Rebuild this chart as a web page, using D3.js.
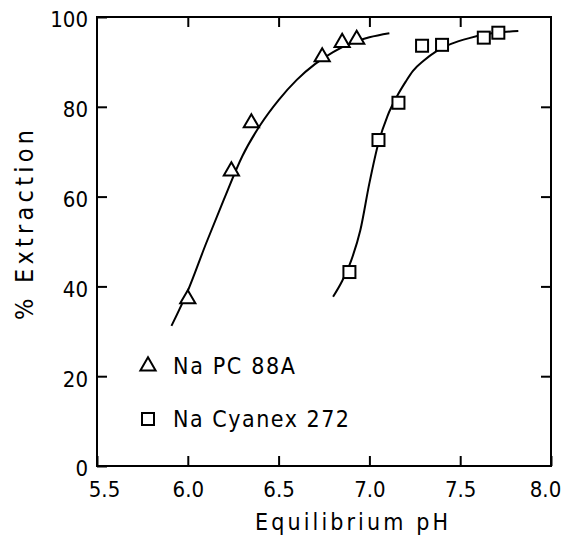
<!DOCTYPE html>
<html><head><meta charset="utf-8">
<script src="https://cdn.jsdelivr.net/npm/d3@7"></script>
<style>
html,body{margin:0;padding:0;background:#fff;}
text{font-family:"DejaVu Sans Condensed","DejaVu Sans",sans-serif;fill:#000;}
</style></head>
<body><svg id="c" width="564" height="543"></svg>
<script>
// Data
const xTicks = [5.5, 6.0, 6.5, 7.0, 7.5, 8.0];
const yTicks = [0, 20, 40, 60, 80, 100];
const pcPH  = [6.00, 6.24, 6.35, 6.74, 6.85, 6.93];
const pcExt = [37.2, 65.7, 76.4, 91.1, 94.3, 95.0];
const cyPH  = [6.89, 7.05, 7.16, 7.29, 7.40, 7.63, 7.71];
const cyExt = [43.2, 72.6, 80.9, 93.6, 93.8, 95.4, 96.5];
// fitted curves
const pcCurvePH  = [5.91, 6.00, 6.10, 6.20, 6.30, 6.40, 6.50, 6.60, 6.70, 6.80, 6.90, 7.00, 7.11];
const pcCurveExt = [31.2, 39.0, 49.5, 59.5, 69.0, 76.0, 81.5, 86.0, 89.5, 92.2, 94.2, 95.5, 96.4];
const cyCurvePH  = [6.80, 6.85, 6.90, 6.95, 7.00, 7.05, 7.10, 7.15, 7.20, 7.24, 7.30, 7.37, 7.45, 7.55, 7.65, 7.82];
const cyCurveExt = [37.7, 41.2, 45.8, 52.5, 63.0, 72.0, 78.0, 82.2, 85.6, 88.0, 90.3, 92.4, 94.0, 95.3, 96.2, 96.9];
const legendLabels = ["Na PC 88A", "Na Cyanex 272"];
const xLabel = "Equilibrium pH";
const yLabel = "%  Extraction";

const svg = d3.select("#c");
const L = 97, R = 551, T = 17, B = 466;
const x = d3.scaleLinear().domain([5.5, 8.0]).range([L, R]);
const y = d3.scaleLinear().domain([0, 100]).range([B, T]);

const fs = 22;
function styleAxis(g){
  g.select(".domain").remove();
  g.selectAll(".tick line").attr("stroke","#000").attr("stroke-width",2);
  g.selectAll(".tick text").attr("font-size",fs).attr("fill","#000")
   .style("font-family","'DejaVu Sans Condensed','DejaVu Sans',sans-serif");
}
// bottom axis
const bx = svg.append("g").attr("transform",`translate(0,${B})`)
  .call(d3.axisBottom(x).tickValues(xTicks).tickFormat(d3.format(".1f")).tickSize(-10).tickPadding(15))
  .call(styleAxis);
bx.selectAll(".tick text").attr("dx", d => d === 5.5 ? 7 : d === 8.0 ? -6 : 0);
// top axis ticks
svg.append("g").attr("transform",`translate(0,${T})`)
  .call(d3.axisTop(x).tickValues(xTicks.slice(1,-1)).tickFormat("").tickSize(-10))
  .call(styleAxis);
// left axis
svg.append("g").attr("transform",`translate(${L},0)`)
  .call(d3.axisLeft(y).tickValues(yTicks).tickFormat(d3.format("d")).tickSize(-10).tickPadding(9))
  .call(styleAxis)
  .selectAll(".tick text").attr("dy","0.45em");
// right axis ticks
svg.append("g").attr("transform",`translate(${R},0)`)
  .call(d3.axisRight(y).tickValues(yTicks.slice(1,-1)).tickFormat("").tickSize(-10))
  .call(styleAxis);
// frame
svg.append("rect").attr("x",L).attr("y",T).attr("width",R-L).attr("height",B-T)
  .attr("fill","none").attr("stroke","#000").attr("stroke-width",2);

// curves
const line = d3.line().x(d=>x(d[0])).y(d=>y(d[1])).curve(d3.curveMonotoneX);
svg.append("path").datum(d3.zip(pcCurvePH, pcCurveExt)).attr("d",line)
  .attr("fill","none").attr("stroke","#000").attr("stroke-width",2);
svg.append("path").datum(d3.zip(cyCurvePH, cyCurveExt)).attr("d",line)
  .attr("fill","none").attr("stroke","#000").attr("stroke-width",2);

// markers
const tri = d3.symbol().type(d3.symbolTriangle).size(100);
svg.selectAll(".tri").data(d3.zip(pcPH, pcExt)).join("path")
  .attr("transform",d=>`translate(${x(d[0])},${y(d[1])})`)
  .attr("d",tri).attr("fill","#fff").attr("stroke","#000").attr("stroke-width",2);
const sqS = 12;
svg.selectAll(".sq").data(d3.zip(cyPH, cyExt)).join("rect")
  .attr("x",d=>x(d[0])-sqS/2).attr("y",d=>y(d[1])-sqS/2)
  .attr("width",sqS).attr("height",sqS)
  .attr("fill","#fff").attr("stroke","#000").attr("stroke-width",2);

// legend
svg.append("path").attr("transform","translate(148,366)").attr("d",tri)
  .attr("fill","#fff").attr("stroke","#000").attr("stroke-width",2);
svg.append("rect").attr("x",148-sqS/2).attr("y",419-sqS/2).attr("width",sqS).attr("height",sqS)
  .attr("fill","#fff").attr("stroke","#000").attr("stroke-width",2);
svg.append("text").attr("x",173).attr("y",374).attr("font-size",23)
  .attr("textLength",122).attr("lengthAdjust","spacing").text(legendLabels[0]);
svg.append("text").attr("x",173).attr("y",427).attr("font-size",23)
  .attr("textLength",176).attr("lengthAdjust","spacing").text(legendLabels[1]);

// axis titles
svg.append("text").attr("x",255).attr("y",530).attr("font-size",23)
  .attr("textLength",193).attr("lengthAdjust","spacing").text(xLabel);
svg.append("text").attr("transform","translate(33,320) rotate(-90)").attr("font-size",25)
  .attr("textLength",190).attr("lengthAdjust","spacing").text(yLabel);
</script></body></html>
